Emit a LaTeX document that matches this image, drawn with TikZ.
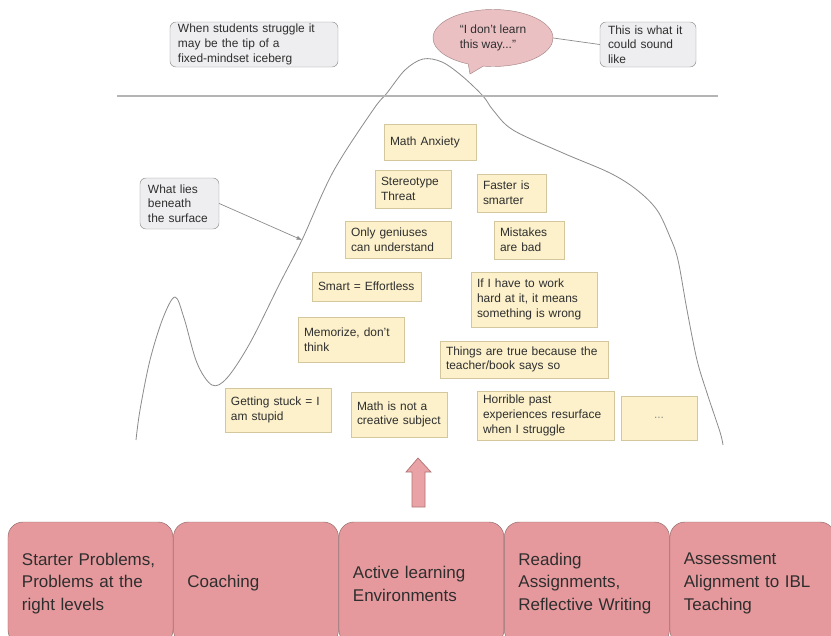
\documentclass[tikz,border=0pt]{standalone}
\usepackage{fontspec}
\setmainfont{Liberation Sans}
\usepackage{tikz}
\usetikzlibrary{
  arrows.meta,
  positioning,
  shapes.callouts
}
\definecolor{ink}{HTML}{2E2E2E}
\definecolor{stroke}{HTML}{8C8C8C}
\definecolor{water}{HTML}{B4B4B4}
\definecolor{notefill}{HTML}{FCF1CB}
\definecolor{noteline}{HTML}{D3C79E}
\definecolor{remarkfill}{HTML}{EEEEF0}
\definecolor{remarkline}{HTML}{8E8E8E}
\definecolor{bubblefill}{HTML}{EBC0C3}
\definecolor{bubbleline}{HTML}{A58787}
\definecolor{supportfill}{HTML}{E6999D}
\definecolor{supportline}{HTML}{8F6A6A}
\definecolor{pushfill}{HTML}{E9A3A7}
\definecolor{pushline}{HTML}{B07474}
\newcommand{\notefont}{\fontsize{10.2}{12.5}\selectfont}
\newcommand{\supportfont}{\fontsize{14.5}{19.5}\selectfont}
\tikzset{
  iceline/.style={
    draw=stroke,
    line width=0.7pt
  },
  waterline/.style={
    draw=water,
    line width=0.9pt
  },
  note/.style={
    draw=noteline,
    fill=notefill,
    text=ink,
    font=\notefont,
    align=left,
    inner xsep=0.18cm,
    inner ysep=2pt
  },
  remark/.style={
    draw=remarkline,
    fill=remarkfill,
    text=ink,
    font=\notefont,
    align=left,
    rounded corners=0.18cm,
    inner xsep=0.24cm,
    inner ysep=1pt,
    minimum height=1.35cm
  },
  bubble/.style={
    ellipse callout,
    draw=bubbleline,
    fill=bubblefill,
    text=ink,
    font=\notefont,
    align=left,
    minimum width=3.6cm,
    minimum height=1.71cm
  },
  support/.style={
    draw=supportline,
    fill=supportfill,
    text=ink,
    font=\supportfont,
    align=left,
    rounded corners=0.45cm,
    text width=4.11cm,
    inner xsep=0.42cm,
    minimum height=3.69cm
  },
  pointer/.style={
    -{Latex[length=1.6mm,width=1.3mm]},
    draw=stroke,
    line width=0.6pt
  },
  push/.style={
    draw=pushline,
    fill=pushfill,
    line width=0.6pt
  }
}

\begin{document}
\begin{tikzpicture}[x=0.03cm, y=-0.03cm, node distance=0pt]
    \useasboundingbox (0,0) rectangle (831,635);

    % iceberg outline and the water surface
    \draw[iceline] plot[smooth, tension=0.55] coordinates {
      (136,440) (140,410) (150,360) (163,318) (175,297) (184,318)
      (197,363) (212,385) (227,378) (250,343) (280,283) (302,240)
      (333,172) (373,110) (387,93) (405,70) (423,59) (442,62)
      (462,76) (483,96) (493,110) (513,130) (563,153) (610,173)
      (637,190) (657,210) (670,237) (678,260) (687,310) (697,360)
      (707,393) (720,432) (723,445)
    };
    \coordinate (surface) at (302,240);
    \draw[waterline] (117,96) -- (718,96);

    % above the water
    \node[remark, text width=4.56cm] (tip) at (254,44.5) {
      When students struggle it\\
      may be the tip of a\\
      fixed-mindset iceberg
    };
    \node[bubble, callout absolute pointer={(470,74)}] (voice) at (493,38) {
      ``I don't learn\\
      this way...''
    };
    \node[remark, text width=2.40cm] (sound) at (648,44.5) {
      This is what it\\
      could sound\\
      like
    };
    \draw[draw=stroke, line width=0.6pt] (sound.west) -- (voice.east);

    % below the water
    \node[remark, text width=1.89cm, minimum height=1.53cm] (beneath) at (179.5,203.5) {
      What lies\\
      beneath\\
      the surface
    };
    \draw[pointer] (beneath.east) -- (surface);

    \node[note, text width=2.40cm, minimum height=1.08cm] (anxiety) at (430,142) {Math Anxiety};
    \node[note, text width=1.92cm, minimum height=1.14cm] (threat) at (413,189) {Stereotype\\Threat};
    \node[note, text width=1.71cm, minimum height=1.14cm] (faster) at (511.5,193) {Faster is\\smarter};
    \node[note, text width=2.82cm, minimum height=1.11cm] (genius) at (398,239.5) {Only geniuses\\can understand};
    \node[note, text width=1.74cm, minimum height=1.14cm] (mistakes) at (529,240) {Mistakes\\are bad};
    \node[note, text width=2.91cm, minimum height=0.87cm] (effortless) at (366.5,286.5) {Smart = Effortless};
    \node[note, text width=3.42cm, minimum height=1.65cm] (hardwork) at (534,299.5) {
      If I have to work\\
      hard at it, it means\\
      something is wrong
    };
    \node[note, text width=2.82cm, minimum height=1.35cm] (memorize) at (351,339.5) {Memorize, don't\\think};
    \node[note, text width=4.68cm, minimum height=1.11cm] (teacher) at (524,359.5) {
      Things are true because the\\
      teacher/book says so
    };
    \node[note, text width=2.82cm, minimum height=1.32cm] (stuck) at (278,410) {Getting stuck = I\\am stupid};
    \node[note, text width=2.52cm, minimum height=1.35cm] (creative) at (399,414.5) {Math is not a\\creative subject};
    \node[note, text width=3.75cm, minimum height=1.47cm] (horrible) at (545.5,415.5) {
      Horrible past\\
      experiences resurface\\
      when I struggle
    };
    \node[note, text width=1.92cm, minimum height=1.32cm, align=center, text=stroke] (more) at (659,418) {...};

    % what pushes up from below
    \draw[push] (418,458) -- (431,472) -- (425,472) -- (425,507)
      -- (412,507) -- (412,472) -- (406,472) -- cycle;

    \node[support] (starter) at (90.5,583.5) {
      Starter Problems,\\
      Problems at the\\
      right levels
    };
    \node[support, right=of starter] (coaching) {Coaching};
    \node[support, right=of coaching] (active) {
      Active learning\\
      Environments
    };
    \node[support, right=of active] (reading) {
      Reading\\
      Assignments,\\
      Reflective Writing
    };
    \node[support, right=of reading] (assessment) {
      Assessment\\
      Alignment to IBL\\
      Teaching
    };
\end{tikzpicture}
\end{document}
